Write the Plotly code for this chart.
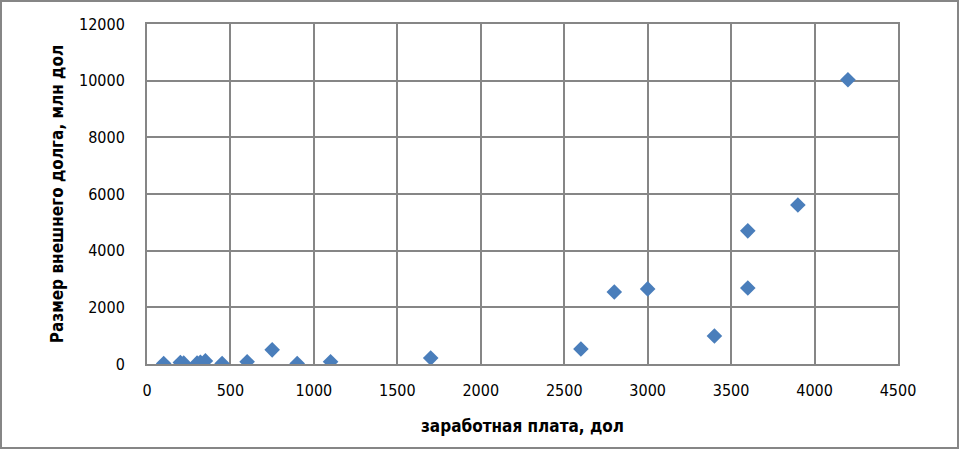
import plotly.graph_objects as go

salary = [100, 200, 220, 300, 320, 350, 450, 600, 750, 900, 1100, 1700,
          2600, 2800, 3000, 3400, 3600, 3600, 3900, 4200]
debt = [20, 50, 30, 30, 60, 110, 20, 80, 500, 20, 80, 210,
        530, 2540, 2650, 990, 2680, 4700, 5610, 10030]

x_title = "заработная плата, дол"
y_title = "Размер внешнего долга, млн дол"

font_family = "Liberation Sans Narrow, DejaVu Sans Condensed, Liberation Sans, sans-serif"
grid = "#868686"

fig = go.Figure()
fig.add_trace(go.Scatter(
    x=salary, y=debt, mode="markers",
    marker=dict(symbol="diamond", size=12, color="#4A7EBB",
                line=dict(width=0)),
    showlegend=False,
))

fig.update_layout(
    width=961, height=450,
    margin=dict(l=147, r=63, t=24, b=86),
    paper_bgcolor="white", plot_bgcolor="white",
    font=dict(family=font_family, size=16, color="#000000"),
    xaxis=dict(
        range=[0, 4500], dtick=500, tick0=0, tickformat="d",
        showgrid=True, gridcolor=grid, gridwidth=2,
        showline=True, linecolor=grid, linewidth=2, mirror=True,
        zeroline=False, automargin=False,
        ticks="outside", ticklen=11, tickcolor="rgba(0,0,0,0)",
        title=dict(text=f"<b>{x_title}</b>", standoff=21,
                   font=dict(size=17)),
    ),
    yaxis=dict(
        range=[0, 12000], dtick=2000, tick0=0, tickformat="d",
        showgrid=True, gridcolor=grid, gridwidth=2,
        showline=True, linecolor=grid, linewidth=2, mirror=True,
        zeroline=False, automargin=False,
        ticks="outside", ticklen=17, tickcolor="rgba(0,0,0,0)",
        title=dict(text=f"<b>{y_title}</b>", standoff=11,
                   font=dict(size=17)),
    ),
    shapes=[dict(type="rect", xref="paper", yref="paper",
                 x0=-146/751, x1=(751+60)/751, y0=-84/340, y1=(340+23)/340,
                 line=dict(color=grid, width=2), layer="below")],
)

fig.write_html("out.html", config={"displayModeBar": False},
               post_script="document.body.style.margin='0';document.body.style.overflow='hidden';")
